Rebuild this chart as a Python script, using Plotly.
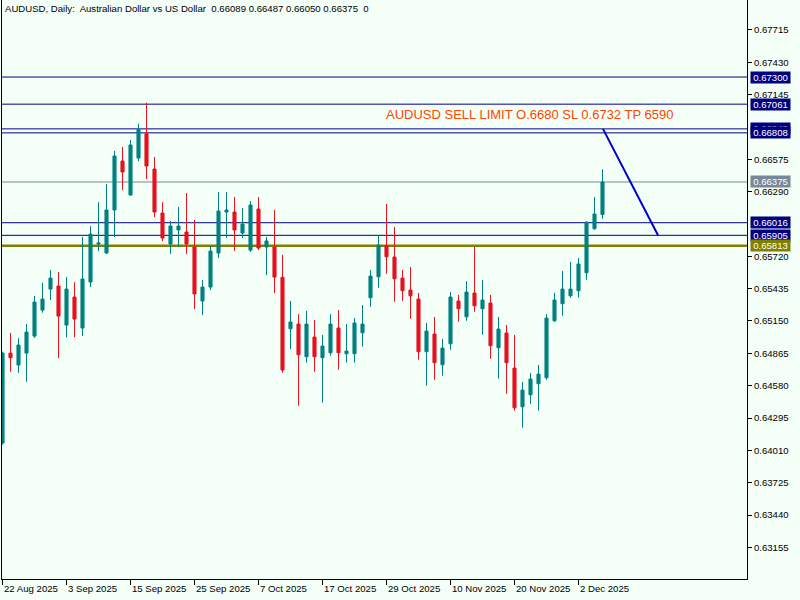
import plotly.graph_objects as go

# ---- data ----
opens = [0.64074, 0.64867, 0.64762, 0.64867, 0.65017, 0.65246, 0.65431, 0.65458, 0.65114, 0.65361,
         0.65088, 0.65493, 0.65828, 0.65749, 0.66128, 0.66560, 0.66260, 0.66586, 0.66800, 0.66489,
         0.66101, 0.65828, 0.65952, 0.65934, 0.65802, 0.65326, 0.65449, 0.65749, 0.66110, 0.66110,
         0.65925, 0.65775, 0.66137, 0.65802, 0.65802, 0.65535, 0.65081, 0.65123, 0.64835, 0.65008,
         0.64826, 0.64870, 0.65088, 0.64861, 0.64861, 0.65046, 0.65355, 0.65540, 0.65813, 0.65714,
         0.65528, 0.65423, 0.65343, 0.64879, 0.65035, 0.64764, 0.64949, 0.65326, 0.65187, 0.65396,
         0.65258, 0.65308, 0.64914, 0.65044, 0.64735, 0.64394, 0.64500, 0.64597, 0.64650, 0.65152,
         0.65302, 0.65372, 0.65417, 0.65575, 0.65963, 0.66089]
highs = [0.64880, 0.65044, 0.65000, 0.65123, 0.65370, 0.65487, 0.65599, 0.65581, 0.65537, 0.65493,
         0.65890, 0.65987, 0.66198, 0.66357, 0.66648, 0.66683, 0.66745, 0.66889, 0.67074, 0.66595,
         0.66198, 0.66031, 0.66154, 0.66278, 0.66040, 0.65511, 0.65810, 0.66286, 0.66286, 0.66242,
         0.66145, 0.66207, 0.66242, 0.65890, 0.66128, 0.65731, 0.65326, 0.65211, 0.65238, 0.65158,
         0.65026, 0.65211, 0.65246, 0.65123, 0.65176, 0.65291, 0.65599, 0.65901, 0.66181, 0.65978,
         0.65599, 0.65625, 0.65396, 0.65132, 0.65185, 0.64991, 0.65405, 0.65379, 0.65502, 0.65802,
         0.65511, 0.65379, 0.65185, 0.65114, 0.65026, 0.64612, 0.64691, 0.64762, 0.65211, 0.65399,
         0.65590, 0.65670, 0.65705, 0.66025, 0.66242, 0.66487]
lows = [0.64060, 0.64703, 0.64694, 0.64614, 0.65002, 0.65223, 0.65335, 0.64823, 0.65008, 0.65008,
        0.65017, 0.65449, 0.65766, 0.65740, 0.65890, 0.66304, 0.66255, 0.66560, 0.66401, 0.66066,
        0.65855, 0.65740, 0.65802, 0.65740, 0.65255, 0.65202, 0.65423, 0.65705, 0.65881, 0.65766,
        0.65881, 0.65758, 0.65775, 0.65555, 0.65396, 0.64694, 0.64903, 0.64403, 0.64782, 0.64703,
        0.64429, 0.64844, 0.64720, 0.64782, 0.64782, 0.64923, 0.65275, 0.65443, 0.65566, 0.65320,
        0.65328, 0.65170, 0.64808, 0.64579, 0.64632, 0.64667, 0.64896, 0.65143, 0.65152, 0.65231,
        0.65029, 0.64817, 0.64641, 0.64509, 0.64359, 0.64209, 0.64420, 0.64359, 0.64632, 0.65140,
        0.65196, 0.65355, 0.65355, 0.65513, 0.65954, 0.66050]
closes = [0.64867, 0.64826, 0.64938, 0.65052, 0.65317, 0.65343, 0.65528, 0.65193, 0.65431, 0.65167,
          0.65520, 0.65916, 0.65837, 0.66128, 0.66604, 0.66463, 0.66701, 0.66836, 0.66516, 0.66110,
          0.65881, 0.65987, 0.65987, 0.65828, 0.65388, 0.65449, 0.65766, 0.66119, 0.66128, 0.65952,
          0.66004, 0.66172, 0.65793, 0.65855, 0.65537, 0.64718, 0.65141, 0.64852, 0.65123, 0.64835,
          0.64929, 0.65123, 0.64870, 0.64885, 0.65132, 0.65123, 0.65546, 0.65819, 0.65716, 0.65522,
          0.65417, 0.65372, 0.64879, 0.65061, 0.64782, 0.64911, 0.65361, 0.65258, 0.65405, 0.65284,
          0.65335, 0.64932, 0.65079, 0.64782, 0.64385, 0.64541, 0.64638, 0.64682, 0.65176, 0.65335,
          0.65431, 0.65431, 0.65652, 0.66022, 0.66093, 0.66375]

bar_index = list(range(len(opens)))

date_tick_index = [0, 8, 16, 24, 32, 40, 48, 56, 64, 72]
date_tick_labels = ["22 Aug 2025", "3 Sep 2025", "15 Sep 2025", "25 Sep 2025", "7 Oct 2025",
                    "17 Oct 2025", "29 Oct 2025", "10 Nov 2025", "20 Nov 2025", "2 Dec 2025"]

price_ticks = [0.67715, 0.67430, 0.67145, 0.66575, 0.66290, 0.65720, 0.65435, 0.65150,
               0.64865, 0.64580, 0.64295, 0.64010, 0.63725, 0.63440, 0.63155]

level_lines = [0.67300, 0.67061, 0.66843, 0.66808, 0.66016, 0.65905]
bid_level = 0.66375
support_level = 0.65813

trend_start = (75.06, 0.66843)
trend_end = (81.94, 0.65905)

title_text = "AUDUSD, Daily:  Australian Dollar vs US Dollar  0.66089 0.66487 0.66050 0.66375  0"
trade_note = "AUDUSD SELL LIMIT O.6680 SL 0.6732 TP 6590"
trade_note_pos = (47.65, 0.66974)

# ---- styles ----
BG = "#F4FFF8"
UP = "#008080"
DOWN = "#E8111F"
NAVY = "#000080"
GRAY = "#778899"
OLIVE = "#808000"
FONT = "Liberation Sans, Arial, sans-serif"
FS = 9.6

fig = go.Figure()
fig.add_trace(go.Candlestick(
    x=bar_index, open=opens, high=highs, low=lows, close=closes,
    increasing=dict(line=dict(color=UP, width=1), fillcolor=UP),
    decreasing=dict(line=dict(color=DOWN, width=1), fillcolor=DOWN),
    whiskerwidth=0, showlegend=False, hoverinfo="skip",
))

shapes = []
for lv in level_lines:
    shapes.append(dict(type="line", xref="paper", yref="y", x0=0, x1=1, y0=lv, y1=lv,
                       line=dict(color=NAVY, width=1), layer="below"))
shapes.append(dict(type="line", xref="paper", yref="y", x0=0, x1=1, y0=bid_level, y1=bid_level,
                   line=dict(color=GRAY, width=1), layer="below"))
shapes.append(dict(type="line", xref="paper", yref="y", x0=0, x1=1, y0=support_level, y1=support_level,
                   line=dict(color=OLIVE, width=2.5), layer="below"))
shapes.append(dict(type="line", xref="x", yref="y", x0=trend_start[0], y0=trend_start[1],
                   x1=trend_end[0], y1=trend_end[1], line=dict(color="#0000CD", width=2)))

annotations = []
label_levels = [(lv, NAVY) for lv in level_lines] + [(bid_level, GRAY), (support_level, OLIVE)]
for lv, col in label_levels:
    annotations.append(dict(xref="paper", yref="y", x=1, y=lv, xanchor="left", yanchor="middle",
                            xshift=3, text=f"{lv:.5f}", showarrow=False,
                            width=39, height=11, borderpad=0, bgcolor=col, align="center",
                            font=dict(family=FONT, size=FS, color="white")))

for idx, lab in zip(date_tick_index, date_tick_labels):
    annotations.append(dict(xref="x", yref="paper", x=idx, y=0, xanchor="left", yanchor="top",
                            xshift=-1, yshift=-2, text=lab, showarrow=False,
                            font=dict(family=FONT, size=FS, color="black")))

annotations.append(dict(xref="paper", yref="paper", x=0, y=1, xanchor="left", yanchor="top",
                        xshift=1, yshift=-1, text=title_text, showarrow=False,
                        font=dict(family=FONT, size=FS, color="black")))
annotations.append(dict(xref="x", yref="y", x=trade_note_pos[0], y=trade_note_pos[1],
                        xanchor="left", yanchor="middle", text=trade_note, showarrow=False,
                        font=dict(family=FONT, size=13, color="#FF4500")))

fig.update_layout(
    width=800, height=600,
    margin=dict(l=2, r=53, t=0, b=21, autoexpand=False),
    paper_bgcolor=BG, plot_bgcolor=BG,
    boxgap=0.45,
    showlegend=False,
    shapes=shapes,
    annotations=annotations,
    xaxis=dict(range=[-0.0625, 93.0625], showgrid=False, zeroline=False,
               showline=True, linecolor="black", linewidth=1,
               tickvals=date_tick_index, ticktext=[""] * len(date_tick_index),
               ticks="outside", ticklen=5, tickcolor="black", tickwidth=1,
               rangeslider=dict(visible=False)),
    yaxis=dict(range=[0.62876, 0.67979], side="right", showgrid=False, zeroline=False,
               showline=True, mirror=True, linecolor="black", linewidth=1,
               tickvals=price_ticks, ticktext=[f"{v:.5f}" for v in price_ticks],
               ticks="outside", ticklen=4, tickcolor="black", tickwidth=1,
               tickfont=dict(family=FONT, size=FS, color="black")),
)

fig.write_html(
    "out.html",
    config={"displayModeBar": False, "staticPlot": True},
    post_script="document.body.style.margin='0';document.body.style.padding='0';"
                "document.body.style.overflow='hidden';document.body.style.background='" + BG + "';",
)
